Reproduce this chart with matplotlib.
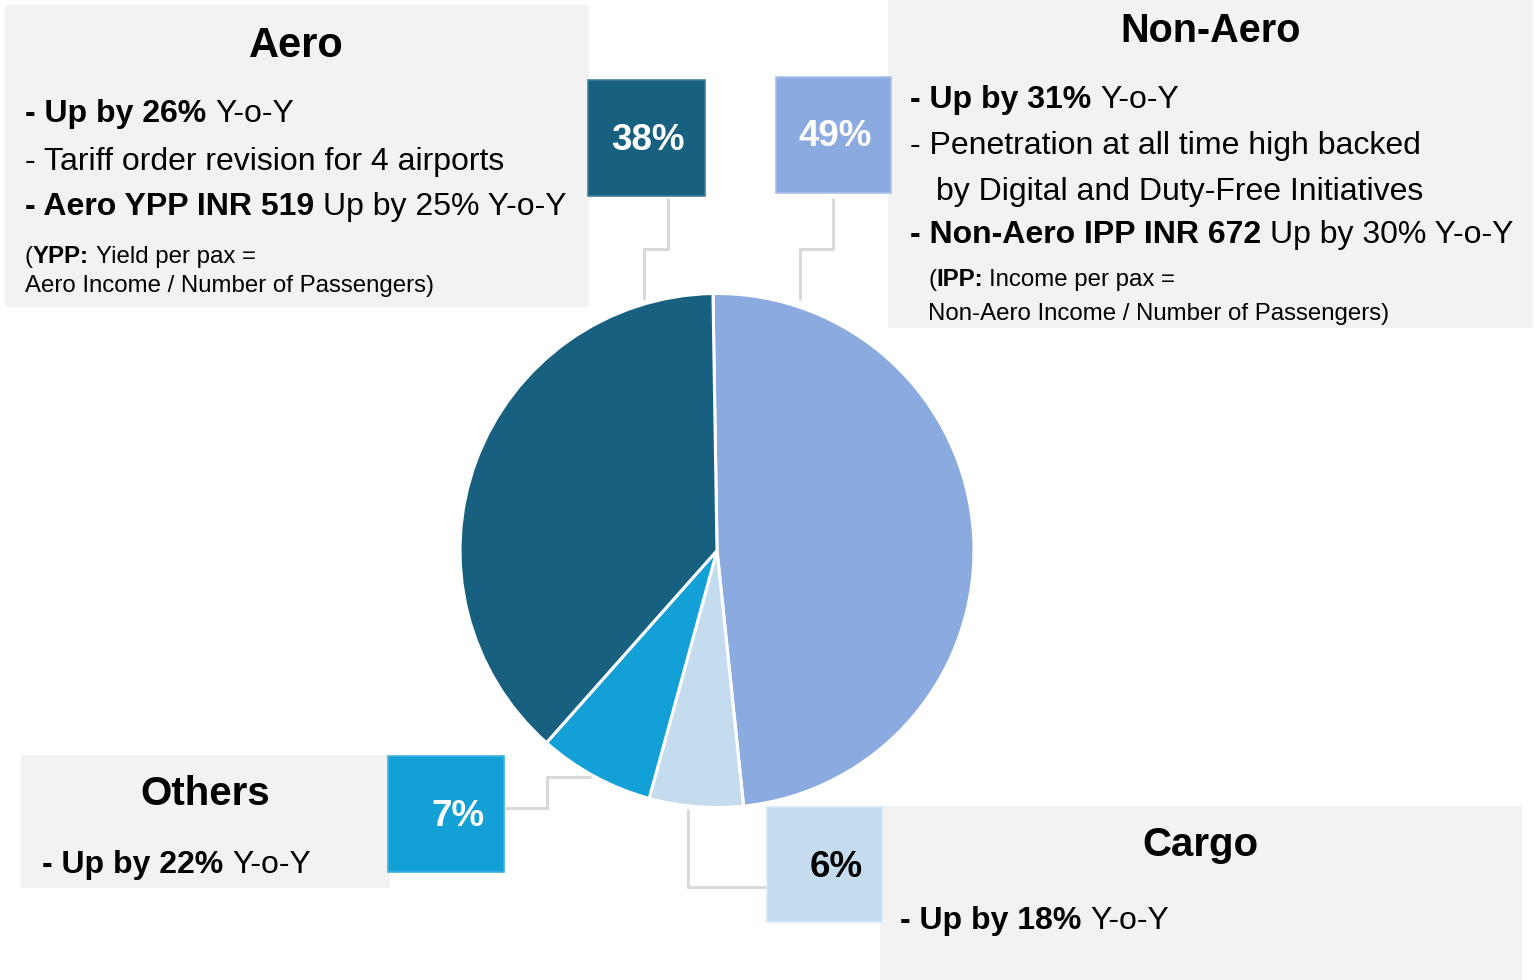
import matplotlib
matplotlib.use("Agg")
import matplotlib.pyplot as plt
from matplotlib.patches import Rectangle

# ---- data ----
categories = ["Non-Aero", "Cargo", "Others", "Aero"]
shares = [48.6, 5.9, 7.3, 38.2]
share_labels = ["49%", "6%", "7%", "38%"]
colors = ["#8AAAE0", "#C5DCEE", "#12A0D6", "#17607F"]

aero_lines = [
    [("- Up by 26%", True, 0), ("Y-o-Y", False, 1)],
    [("- Tariff order revision for 4 airports", False, 0)],
    [("- Aero YPP INR 519", True, 0), ("Up by 25% Y-o-Y", False, 1)],
]
aero_notes = [
    [("(", False, 0), ("YPP:", True, 0), ("Yield per pax =", False, 1)],
    [("Aero Income / Number of Passengers)", False, 0)],
]
nonaero_lines = [
    [("- Up by 31%", True, 0), ("Y-o-Y", False, 1)],
    [("- Penetration at all time high backed", False, 0)],
    [("by Digital and Duty-Free Initiatives", False, 0)],
    [("- Non-Aero IPP INR 672", True, 0), ("Up by 30% Y-o-Y", False, 1)],
]
nonaero_notes = [
    [("(", False, 0), ("IPP:", True, 0), ("Income per pax =", False, 1)],
    [("Non-Aero Income / Number of Passengers)", False, 0)],
]
others_lines = [[("- Up by 22%", True, 0), ("Y-o-Y", False, 1)]]
cargo_lines = [[("- Up by 18%", True, 0), ("Y-o-Y", False, 1)]]

plt.rcParams['font.family'] = ['Liberation Sans', 'DejaVu Sans']

W, H = 1537, 980
fig = plt.figure(figsize=(W / 100, H / 100), dpi=100)
ax = fig.add_axes([0, 0, 1, 1])

GRAY = "#F2F2F2"
LINE = "#D9D9D9"

# background boxes
for (x, y, w, h) in [(5, 5, 584, 302), (888, 0, 645, 328), (21, 755, 369, 133), (880, 806, 642, 174)]:
    ax.add_patch(Rectangle((x, y), w, h, facecolor=GRAY, edgecolor='none', zorder=0))

# pie
wedges, _ = ax.pie(shares, colors=colors, startangle=-90.9, counterclock=True,
                   center=(717, 550.5), radius=257,
                   wedgeprops=dict(edgecolor='white', linewidth=2.2))
for wd in wedges:
    wd.set_zorder(2)

ax.set_xlim(0, W)
ax.set_ylim(H, 0)
ax.set_aspect('auto')
ax.axis('off')

# percentage boxes
pbox = {"Aero": (588, 80, 117, 116), "Non-Aero": (776, 77, 115, 116),
        "Others": (388, 756, 116, 116), "Cargo": (767, 807, 115, 115)}
ptext = {"Aero": (648, 140, 'white'), "Non-Aero": (835, 137, 'white'),
         "Others": (458, 816, 'white'), "Cargo": (836, 867, 'black')}
edge = {"Aero": "#3E7E9A", "Non-Aero": "#A9C0EA", "Others": "#3DB3E0", "Cargo": "#D4EAF8"}
for cat, lab, col in zip(categories, share_labels, colors):
    x, y, w, h = pbox[cat]
    ax.add_patch(Rectangle((x, y), w, h, facecolor=col, edgecolor=edge[cat], linewidth=1.2, zorder=3))
    tx, ty, tc = ptext[cat]
    ax.text(tx, ty, lab, fontsize=26.5, fontweight='bold', color=tc, ha='center', va='center', zorder=4)

# connectors
lw = 2.2
ax.plot([668, 668, 644, 644], [198, 249, 249, 300], color=LINE, lw=lw, zorder=1, solid_capstyle='butt')
ax.plot([833, 833, 800, 800], [198, 249, 249, 300], color=LINE, lw=lw, zorder=1, solid_capstyle='butt')
ax.plot([505, 547, 547, 592], [808, 808, 777, 777], color=LINE, lw=lw, zorder=1, solid_capstyle='butt')
ax.plot([688, 688, 766], [809, 887, 887], color=LINE, lw=lw, zorder=1, solid_capstyle='butt')


def rich(x, y, parts, size):
    prev = None
    for txt, bold, gap in parts:
        wgt = 'bold' if bold else 'normal'
        if prev is None:
            prev = ax.text(x, y, txt, fontsize=size, fontweight=wgt, ha='left', va='baseline',
                           color='black', zorder=5)
        else:
            prev = ax.annotate(txt, xy=(1, 0), xycoords=prev, xytext=(gap * 0.278 * size, 0),
                               textcoords='offset points', fontsize=size, fontweight=wgt,
                               ha='left', va='bottom', color='black', zorder=5)
    return prev


BODY = 23
NOTE = 17.3
TITLE = 29

# Aero
ax.text(296, 57, "Aero", fontsize=30, fontweight='bold', ha='center', va='baseline')
for parts, yb in zip(aero_lines, [122, 170, 215]):
    rich(25, yb, parts, BODY)
for parts, yb in zip(aero_notes, [263, 292]):
    rich(25, yb, parts, NOTE)

# Non-Aero
ax.text(1211, 42, "Non-Aero", fontsize=28.5, fontweight='bold', ha='center', va='baseline')
for parts, yb, xs in zip(nonaero_lines, [108, 154, 200, 243], [910, 910, 936, 910]):
    rich(xs, yb, parts, BODY)
for parts, yb in zip(nonaero_notes, [286, 320]):
    rich(928, yb, parts, NOTE)

# Others
ax.text(205, 805, "Others", fontsize=TITLE, fontweight='bold', ha='center', va='baseline')
for parts in others_lines:
    rich(42, 873, parts, BODY)

# Cargo
ax.text(1200, 856, "Cargo", fontsize=TITLE, fontweight='bold', ha='center', va='baseline')
for parts in cargo_lines:
    rich(900, 929, parts, BODY)

fig.savefig("out.png", dpi=100, facecolor='white')
